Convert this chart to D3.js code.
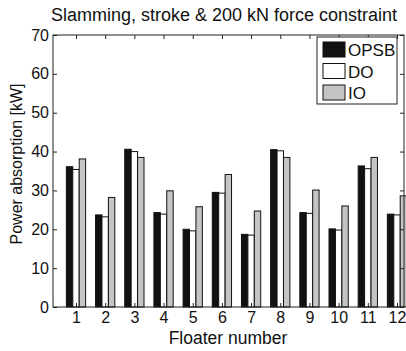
<!DOCTYPE html>
<html>
<head>
<meta charset="utf-8">
<script src="https://cdn.jsdelivr.net/npm/d3@7"></script>
<style>
  body { margin: 0; background: #fff; }
  text { font-family: "Liberation Sans", Arial, sans-serif; fill: #111; }
</style>
</head>
<body>
<svg id="chart" width="406" height="351"></svg>
<script>
var floaters = [1, 2, 3, 4, 5, 6, 7, 8, 9, 10, 11, 12]
var opsb = [36.1, 23.7, 40.6, 24.3, 20.0, 29.5, 18.7, 40.5, 24.3, 20.1, 36.3, 23.9]
var dof  = [35.4, 23.2, 40.0, 23.9, 19.6, 29.3, 18.5, 40.2, 24.1, 19.8, 35.6, 23.7]
var io   = [38.1, 28.2, 38.5, 29.9, 25.8, 34.1, 24.7, 38.5, 30.1, 26.0, 38.5, 28.6]
var yTicks = [0, 10, 20, 30, 40, 50, 60, 70]
var seriesNames = ["OPSB", "DO", "IO"]
var seriesFill = ["#111", "#fff", "#c4c4c4"]

var svg = d3.select("#chart")
var plot = {left: 53, right: 404, top: 35, bottom: 307}

var xScale = d3.scaleLinear().domain([1, 12]).range([76, 397])
var yScale = d3.scaleLinear().domain([0, 70]).range([plot.bottom, plot.top])
var bw = xScale(1.22) - xScale(1)

var dataReady = seriesNames.map(function(name, i) {
  var vals = [opsb, dof, io][i]
  return {name: name, fill: seriesFill[i], off: (i - 1) * bw,
          values: floaters.map(function(f, j) { return {f: f, v: vals[j]} })}
})

// bars
svg.selectAll("g.series")
  .data(dataReady)
  .enter()
  .append("g")
    .attr("class", "series")
    .style("fill", function(d) { return d.fill })
  .selectAll("rect")
  .data(function(d) { return d.values.map(function(p) { return {f: p.f, v: p.v, off: d.off} }) })
  .enter()
  .append("rect")
    .attr("x", function(d) { return xScale(d.f) + d.off - bw / 2 })
    .attr("y", function(d) { return yScale(d.v) })
    .attr("width", bw)
    .attr("height", function(d) { return yScale(0) - yScale(d.v) })
    .attr("stroke", "#111")
    .attr("stroke-width", 1)

// box
svg.append("rect")
  .attr("x", plot.left).attr("y", plot.top)
  .attr("width", plot.right - plot.left).attr("height", plot.bottom - plot.top)
  .attr("fill", "none").attr("stroke", "#222").attr("stroke-width", 1)

// axes, ticks inside like matlab
var xAxis = d3.axisBottom(xScale).tickValues(floaters).tickSize(-4).tickPadding(5).tickFormat(d3.format("d"))
var gx = svg.append("g").attr("transform", "translate(0," + plot.bottom + ")").call(xAxis)
var xTop = d3.axisTop(xScale).tickValues(floaters).tickSize(-4).tickFormat("")
var gxt = svg.append("g").attr("transform", "translate(0," + plot.top + ")").call(xTop)
var yAxis = d3.axisLeft(yScale).tickValues(yTicks).tickSize(-4).tickPadding(4)
var gy = svg.append("g").attr("transform", "translate(" + plot.left + ",0)").call(yAxis)
var yRight = d3.axisRight(yScale).tickValues(yTicks).tickSize(-4).tickFormat("")
var gyr = svg.append("g").attr("transform", "translate(" + plot.right + ",0)").call(yRight)

;[gx, gxt, gy, gyr].forEach(function(g) {
  g.select(".domain").remove()
  g.selectAll("line").attr("stroke", "#222")
  g.selectAll("text").style("font-size", "16px").style("font-family", "Liberation Sans, Arial, sans-serif").attr("fill", "#111")
})

// legend
var legend = svg.append("g")
legend.append("rect")
  .attr("x", 317).attr("y", 37).attr("width", 80).attr("height", 67)
  .attr("fill", "#fff").attr("stroke", "#222")
var items = legend.selectAll("g.item")
  .data(dataReady)
  .enter()
  .append("g")
    .attr("transform", function(d, i) { return "translate(323," + (42 + i * 21.5) + ")" })
items.append("rect")
  .attr("width", 22).attr("height", 15)
  .attr("fill", function(d) { return d.fill })
  .attr("stroke", "#111")
items.append("text")
  .attr("x", 25).attr("y", 14)
  .style("font-size", "17px")
  .text(function(d) { return d.name })

// labels
svg.append("text")
  .attr("x", 224).attr("y", 21)
  .attr("text-anchor", "middle")
  .style("font-size", "18px")
  .text("Slamming, stroke & 200 kN force constraint")

svg.append("text")
  .attr("x", 228).attr("y", 344)
  .attr("text-anchor", "middle")
  .style("font-size", "17.5px")
  .text("Floater number")

svg.append("text")
  .attr("transform", "translate(22,164) rotate(-90)")
  .attr("text-anchor", "middle")
  .style("font-size", "16px")
  .text("Power absorption [kW]")
</script>
</body>
</html>
